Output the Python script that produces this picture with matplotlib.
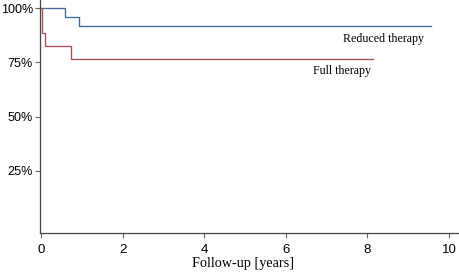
import matplotlib.pyplot as plt
from matplotlib.ticker import FuncFormatter

# Kaplan-Meier style step data (years, % event-free)
reduced_t = [0, 0.6, 0.92, 9.55]
reduced_s = [100, 96.1, 91.8, 91.8]
full_t = [0, 0.02, 0.1, 0.73, 8.13]
full_s = [100, 88.5, 82.3, 76.6, 76.6]

x_ticks = [0, 2, 4, 6, 8, 10]
y_ticks = [25, 50, 75, 100]

fig = plt.figure(figsize=(4.6, 2.74), dpi=100)
ax = fig.add_axes([40 / 460, 41.3 / 274, 420 / 460, 232.7 / 274])

ax.step(reduced_t, reduced_s, where="post", color="#45689a", lw=0.95)
ax.step(full_t, full_s, where="post", color="#a94f52", lw=0.95)

ax.text(9.39, 85.9, "Reduced therapy", family="Liberation Serif", fontsize=8.6,
        ha="right", va="center")
ax.text(8.09, 71.0, "Full therapy", family="Liberation Serif", fontsize=8.6,
        ha="right", va="center")

ax.set_xlim(-0.025, 10.27)
ax.set_ylim(-3.4, 103.7)
ax.set_xticks(x_ticks)
ax.set_yticks(y_ticks)
ax.yaxis.set_major_formatter(FuncFormatter(lambda v, p: "%d%%" % v))

for s in ["top", "right"]:
    ax.spines[s].set_visible(False)
for s in ["left", "bottom"]:
    ax.spines[s].set_color("#444444")
    ax.spines[s].set_linewidth(0.9)
ax.tick_params(direction="out", length=3.6, width=0.8, color="#666666")
ax.tick_params(axis="x", pad=4.2, labelsize=9.5)
ax.tick_params(axis="y", pad=1.4, labelsize=9.1)
for lab in ax.get_xticklabels() + ax.get_yticklabels():
    lab.set_family("Liberation Sans")

ax.set_xlabel("Follow-up [years]", family="Liberation Serif", fontsize=10.3)
ax.xaxis.set_label_coords(0.4845, -0.104)

fig.savefig("out.png", dpi=100)
